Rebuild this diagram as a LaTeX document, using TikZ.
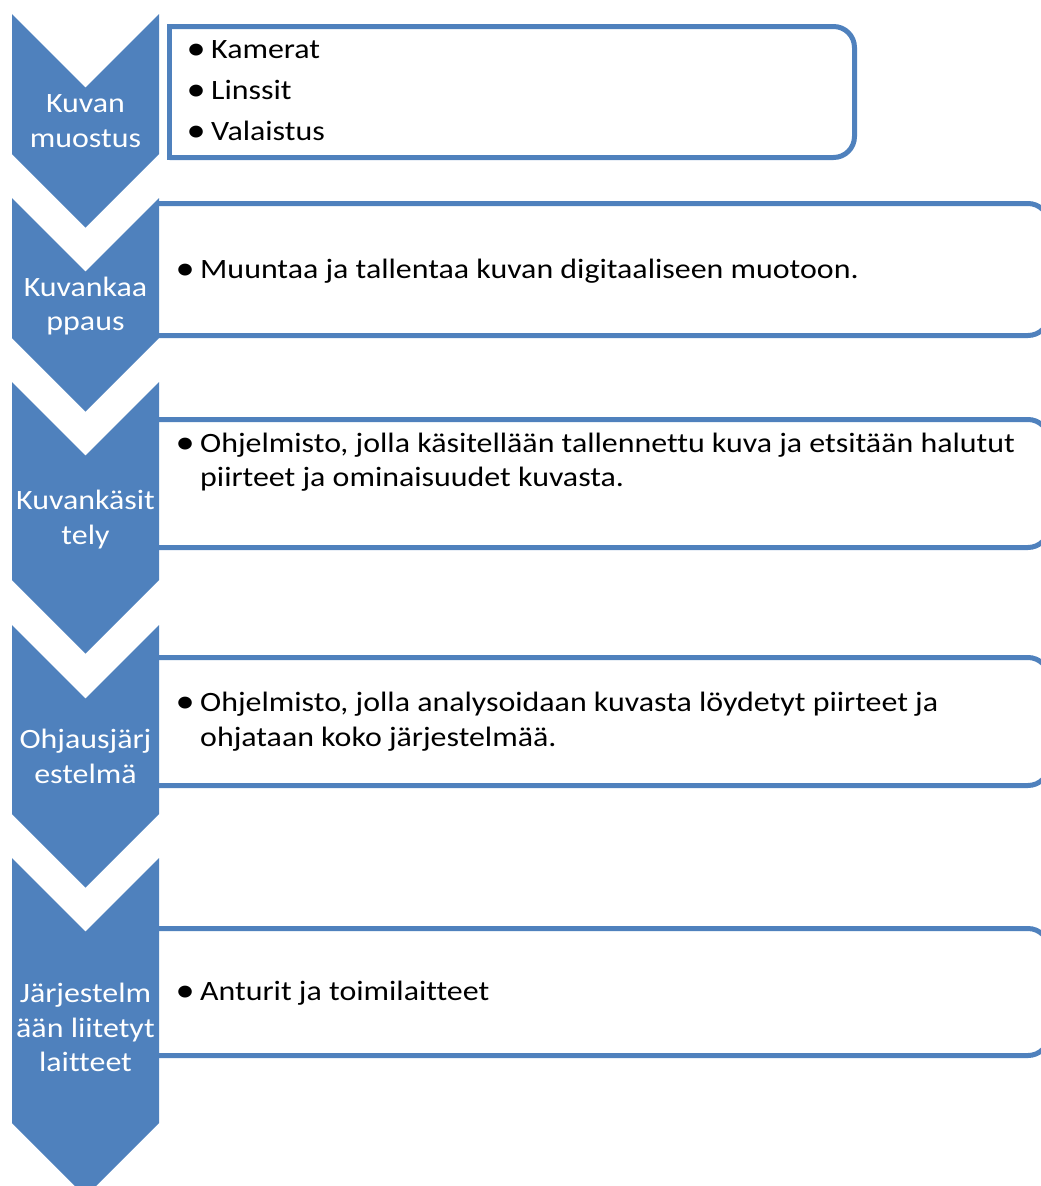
\documentclass[tikz,border=0pt]{standalone}
\usepackage{fontspec}
\setmainfont{Carlito}[FakeStretch=1.14, Ligatures=NoCommon]
\usepackage{tikz}
\definecolor{chevblue}{HTML}{4F81BD}
\newcommand{\itembul}{\makebox[22pt][l]{\hspace*{-2.5pt}\raisebox{-1pt}{\scalebox{1.2}{\textbullet}}}}

\begin{document}
\begin{tikzpicture}[x=1pt,y=-1pt,
  font=\fontsize{28}{34.5}\selectfont,
  chev/.style={fill=chevblue},
  bx/.style={draw=chevblue, line width=5pt, fill=white, rounded corners=21pt},
  lbl/.style={text=white, align=center, inner sep=0pt},
  itm/.style={anchor=west, align=left, inner sep=0pt}]
\useasboundingbox (0,0) rectangle (1041,1186);

% text boxes (left edge hidden under the chevrons)
\draw[bx] (169.5,26.5) -- (854.5,26.5) -- (854.5,157.5) -- (169.5,157.5);
\draw[draw=chevblue, line width=5pt, line cap=rect] (169.5,26.5) -- (169.5,157.5);
\foreach \t/\b in {203.5/335.5, 419.5/547.5, 657.5/785.5, 928.5/1055.5}
  \draw[bx] (159,\t) -- (1049,\t) -- (1049,\b) -- (159,\b);

% chevrons
\foreach \t/\s in {14/154, 198/338, 382/580, 625/814, 858/1123}
  \fill[chev] (12,\t) -- (85.5,\t+73.5) -- (159,\t) -- (159,\s) -- (85.5,\s+73.5) -- (12,\s) -- cycle;

\node[lbl] (c1) at (85.5,121) {Kuvan\\muostus};
\node[lbl] (c2) at (85.5,306) {Kuvankaa\\ppaus};
\node[lbl] (c3) at (85.5,519.5) {Kuvankäsit\\tely};
\node[lbl] (c4) at (85.5,756.5) {Ohjausjärj\\estelmä};
\node[lbl] (c5) at (85.5,1027.5) {Järjestelm\\ään liitetyt\\laitteet};

\node[itm] (i1) at (189,91) {\itembul Kamerat\\[6.5pt]\itembul Linssit\\[6.5pt]\itembul Valaistus};
\node[itm] (i2) at (178,271) {\itembul Muuntaa ja tallentaa kuvan digitaaliseen muotoon.};
\node[itm] (i3) at (178,462) {\itembul Ohjelmisto, jolla käsitellään tallennettu kuva ja etsitään halutut\\\hspace*{22pt}piirteet ja ominaisuudet kuvasta.};
\node[itm] (i4) at (178,721.5) {\itembul Ohjelmisto, jolla analysoidaan kuvasta löydetyt piirteet ja\\\hspace*{22pt}ohjataan koko järjestelmää.};
\node[itm] (i5) at (178,993) {\itembul Anturit ja toimilaitteet};

\end{tikzpicture}
\end{document}
